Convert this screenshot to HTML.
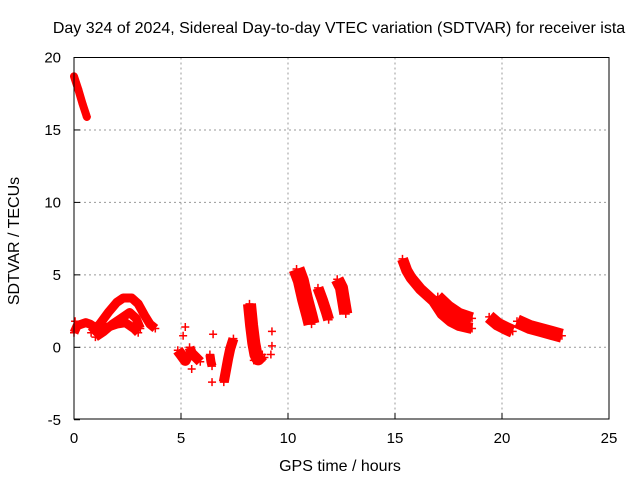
<!DOCTYPE html>
<html><head><meta charset="utf-8"><style>
body{margin:0;background:#fff;width:640px;height:480px;overflow:hidden}
svg{display:block;font-family:"Liberation Sans",sans-serif}
</style></head><body>
<svg id="chart" width="640" height="480">
<text x="339" y="33" font-size="16" text-anchor="middle" fill="#000">Day 324 of 2024, Sidereal Day-to-day VTEC variation (SDTVAR) for receiver ista</text>
<text x="340" y="471" font-size="16" text-anchor="middle">GPS time / hours</text>
<text transform="translate(19,241) rotate(-90)" font-size="16" text-anchor="middle">SDTVAR / TECUs</text>
<g id="grid"></g>
<g id="ticks"></g>
<g id="marks"></g>
<rect x="74" y="57.5" width="535" height="361.5" fill="none" stroke="#000" stroke-width="1"/>
</svg>
<script>
const xTicks=[0,5,10,15,20,25];
const yTicks=[-5,0,5,10,15,20];
const trackTimes=[
 [0.0,0.2,0.4,0.6],
 [0.0,0.15,0.35,0.55,0.75,0.95],
 [0.8,1.2,1.6,2.0,2.3,2.7,3.0,3.3,3.55,3.8],
 [1.0,1.4,1.8,2.2,2.6,2.9,3.1],
 [1.2,1.6,2.0,2.4,2.8,3.0],
 [4.85,5.0,5.2,5.3],
 [5.4,5.5,5.7,5.9],
 [6.35,6.4,6.45],
 [7.0,7.1,7.2,7.3,7.45],
 [8.2,8.3,8.4,8.5,8.6,8.8],
 [10.4,10.6,10.8,11.0,11.1],
 [11.4,11.6,11.8,11.9],
 [12.3,12.5,12.6,12.7],
 [15.35,15.55,15.75,16.2,16.8,17.2,17.6,18.0,18.6],
 [17.0,17.5,18.0,18.6],
 [19.4,19.8,20.2,20.5],
 [20.7,21.3,21.8,22.3,22.8]
];
const trackValues=[
 [18.7,17.8,16.8,15.9],
 [1.0,1.5,1.6,1.7,1.6,1.4],
 [1.0,1.6,2.4,3.1,3.4,3.4,3.0,2.2,1.6,1.3],
 [0.7,1.1,1.6,2.0,2.4,2.0,1.3],
 [1.3,1.4,1.6,1.7,1.3,1.0],
 [-0.2,-0.5,-0.9,-0.6],
 [0.0,-0.4,-0.7,-1.0],
 [-0.5,-1.0,-1.3],
 [-2.4,-1.6,-0.8,-0.1,0.6],
 [3.0,1.5,0.3,-0.5,-0.8,-0.5],
 [5.4,4.6,3.3,2.2,1.6],
 [4.1,3.3,2.4,1.9],
 [4.7,4.1,3.2,2.3],
 [6.1,5.3,4.8,4.0,3.2,2.3,1.8,1.5,1.3],
 [3.5,2.8,2.3,2.0],
 [2.1,1.6,1.3,1.1],
 [1.8,1.4,1.2,1.0,0.8]
];
const singleT=[5.1,5.2,5.5,6.5,6.45,8.9,9.25,9.25,9.2,0.05,5.05,8.4];
const singleV=[0.8,1.4,-1.5,0.9,-2.4,-0.7,1.1,0.1,-0.5,1.8,-0.4,-0.9];
const trackWidths=[8,9,9,9,9,11,10,9,10,13,16,11,13,11,12,13,14];
const NS="http://www.w3.org/2000/svg";
const X=t=>74+t*21.4, Y=v=>347.3-v*14.49;
const grid=document.getElementById('grid'),ticks=document.getElementById('ticks'),marks=document.getElementById('marks');
function mk(tag,a,p){const e=document.createElementNS(NS,tag);for(const k in a)e.setAttribute(k,a[k]);p.appendChild(e);return e;}
xTicks.forEach(t=>{
 if(t>0&&t<25){const l=mk('line',{x1:X(t),x2:X(t),y1:57.5,y2:419,stroke:'#999','stroke-dasharray':'2,3'},grid);
 
 }
 const tk=mk('line',{x1:X(t),x2:X(t),y1:419,y2:413,stroke:'#000'},grid);
 
 
 const s=mk('text',{x:X(t),y:443,'font-size':15,'text-anchor':'middle'},ticks);s.textContent=t;
 
 
});
yTicks.forEach(v=>{
 if(v>-5&&v<20){const l=mk('line',{x1:74,x2:609,y1:Y(v),y2:Y(v),stroke:'#999','stroke-dasharray':'2,3'},grid);
 
 }
 const tk=mk('line',{x1:74,x2:80,y1:Y(v),y2:Y(v),stroke:'#000'},grid);
 
 
 const s=mk('text',{x:61,y:Y(v)+5,'font-size':15,'text-anchor':'end'},ticks);s.textContent=v;
 
 
});
function plus(t,v){const x=X(t),y=Y(v);
 const p=mk('path',{d:`M${x-4},${y}h8M${x},${y-4}v8`,stroke:'#f00','stroke-width':1.5},marks);
 
 }
trackTimes.forEach((ts,i)=>{
 const vs=trackValues[i];
 const pts=ts.map((t,j)=>X(t)+','+Y(vs[j])).join(' ');
 const pl=mk('polyline',{points:pts,fill:'none',stroke:'#f00','stroke-width':trackWidths[i],'stroke-linejoin':'round','stroke-linecap':i===0?'round':'butt'},marks);
 
 
 ts.forEach((t,j)=>plus(t,vs[j]));
});
singleT.forEach((t,i)=>plus(t,singleV[i]));
</script>
</body></html>
